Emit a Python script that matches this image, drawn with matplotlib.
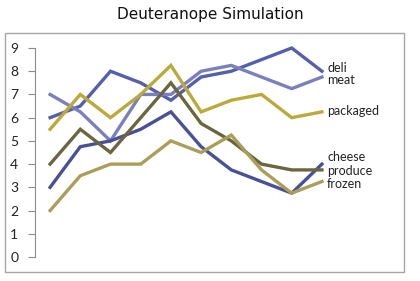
import matplotlib
matplotlib.use("Agg")
import matplotlib.pyplot as plt
from matplotlib.patches import Rectangle

# ---------------------------------------------------------------------------
# Data
# ---------------------------------------------------------------------------
POINTS = list(range(10))
SERIES = ["deli", "meat", "packaged", "cheese", "produce", "frozen"]

deli     = [6.0, 6.5, 8.0, 7.5, 6.75, 7.75, 8.0, 8.5, 9.0, 8.0]
meat     = [7.0, 6.25, 5.0, 7.0, 7.0, 8.0, 8.25, 7.75, 7.25, 7.75]
packaged = [5.5, 7.0, 6.0, 7.0, 8.25, 6.25, 6.75, 7.0, 6.0, 6.25]
cheese   = [3.0, 4.75, 5.0, 5.5, 6.25, 4.75, 3.75, 3.25, 2.75, 4.0]
produce  = [4.0, 5.5, 4.5, 6.0, 7.5, 5.75, 5.0, 4.0, 3.75, 3.75]
frozen   = [2.0, 3.5, 4.0, 4.0, 5.0, 4.5, 5.25, 3.75, 2.75, 3.25]

VALUES = [deli, meat, packaged, cheese, produce, frozen]
COLORS = ["#5460ac", "#7a80bc", "#bba93a", "#4a5096", "#6c6640", "#ab9e5a"]
# label heights next to the line ends
LABEL_Y = [8.15, 7.62, 6.3, 4.3, 3.7, 3.14]
Y_TICKS = list(range(10))

# ---------------------------------------------------------------------------
# Figure
# ---------------------------------------------------------------------------
fig = plt.figure(figsize=(4.2, 2.81), dpi=100)
fig.patch.set_facecolor("white")

# outer chart frame
fig.patches.append(Rectangle((5 / 420, 1 - 272 / 281), 399 / 420, 239 / 281,
                             transform=fig.transFigure, fill=False,
                             edgecolor="#a6a6a6", linewidth=1.0))

fig.text(0.5, 1 - 15 / 281, "Deuteranope Simulation", ha="center", va="center",
         fontsize=11, family="DejaVu Sans", color="#111111")

ax = fig.add_axes([35 / 420, 1 - 257 / 281, 360 / 420, 209 / 281])
ax.set_facecolor("none")

for vals, color in zip(VALUES, COLORS):
    ax.plot(POINTS, vals, color=color, linewidth=2.4, clip_on=False,
            solid_joinstyle="miter")

for name, ly in zip(SERIES, LABEL_Y):
    ax.text(9.17, ly, name, ha="left", va="center", fontsize=9,
            family="Lato", color="#222222")

ax.set_xlim(-0.5, 11.42)
ax.set_ylim(0, 9)
ax.set_yticks(Y_TICKS)
ax.set_yticklabels([str(t) for t in Y_TICKS], fontsize=10, family="Lato",
                   color="#222222")
ax.set_xticks([])
for side in ["top", "right", "bottom"]:
    ax.spines[side].set_visible(False)
ax.spines["left"].set_color("#8c8c8c")
ax.tick_params(axis="y", length=5, color="#8c8c8c", pad=7)

fig.savefig("out.png", dpi=100)
